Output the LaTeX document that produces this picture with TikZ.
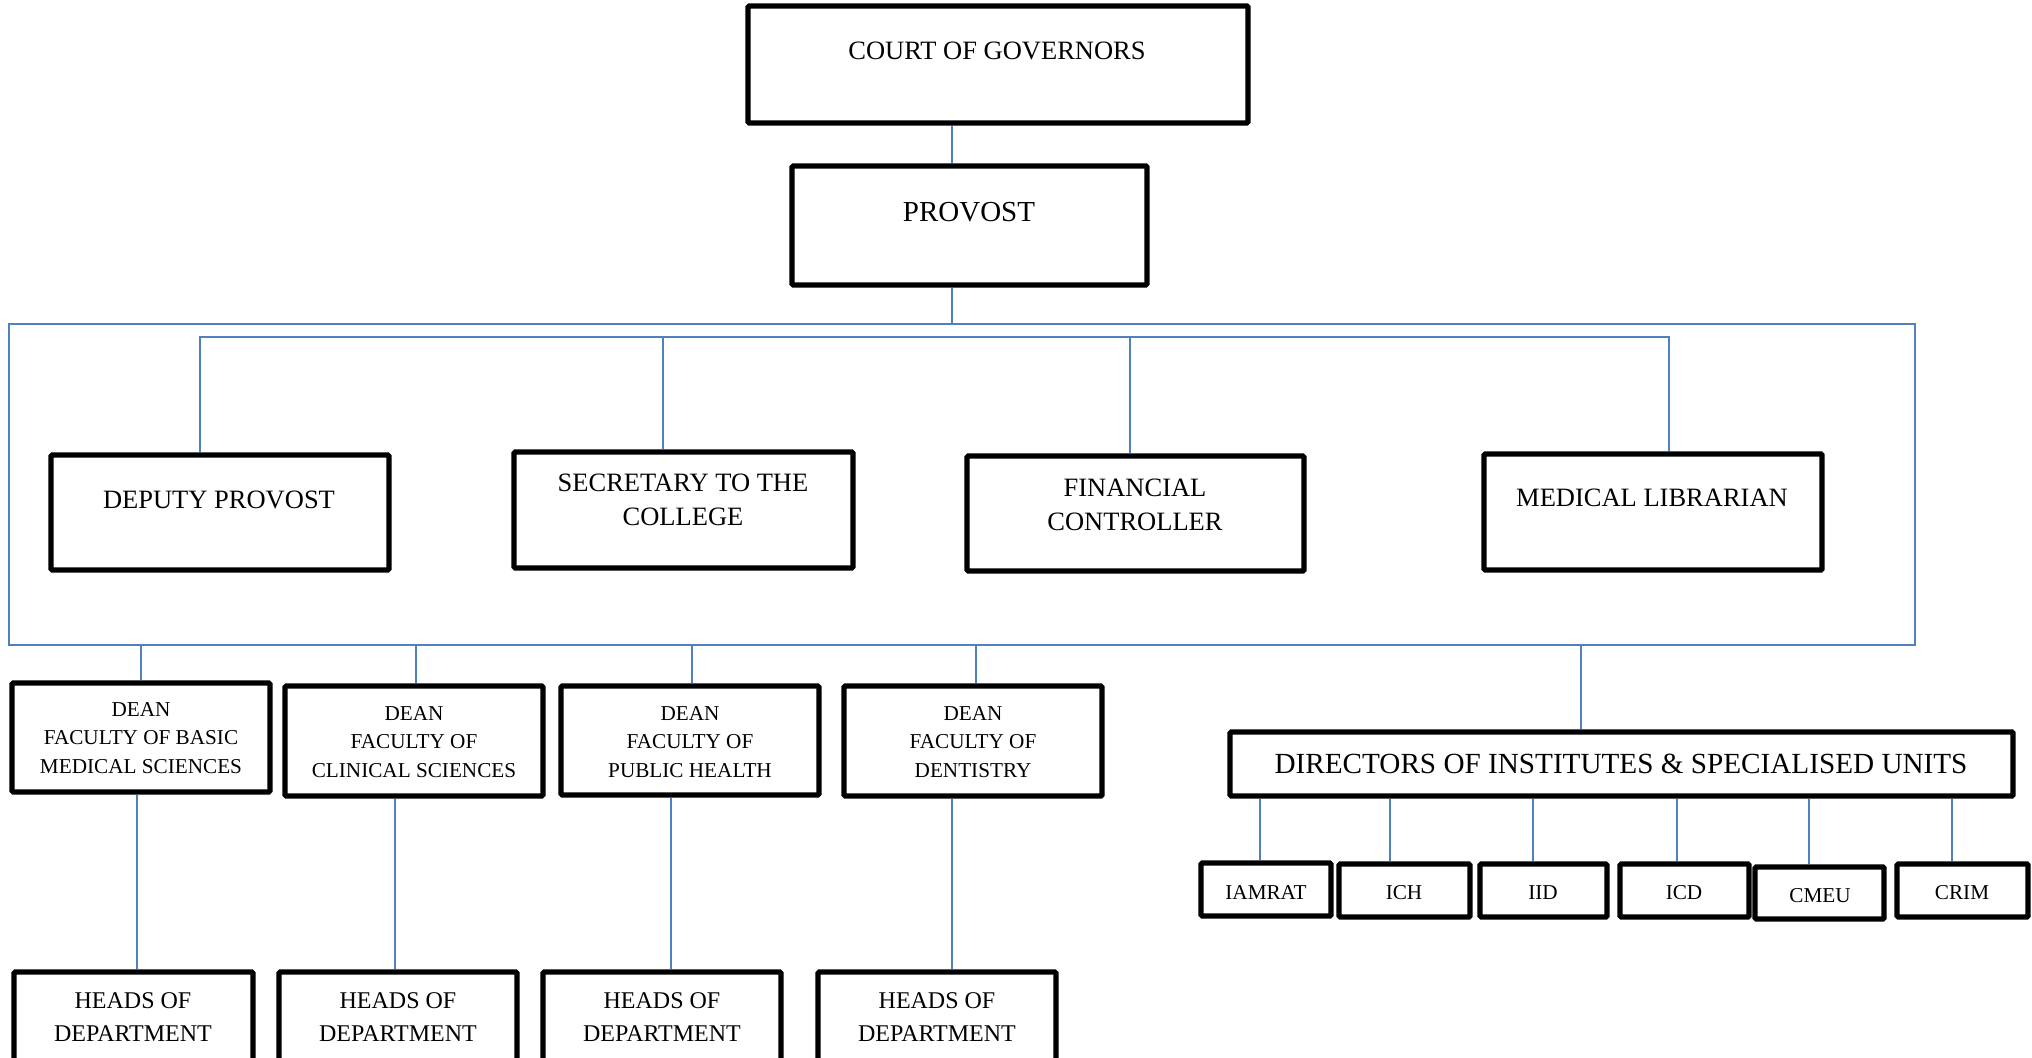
\documentclass[tikz,border=0pt]{standalone}
\usepackage{fontspec}
\setmainfont{Liberation Serif}
\usetikzlibrary{fit}
\definecolor{lineblue}{RGB}{79,129,189}
\tikzset{
  box/.style={draw=black, line width=2.6pt, inner sep=0pt, rounded corners=0.6pt},
  conn/.style={draw=lineblue, line width=0.9pt},
  frm/.style={draw=lineblue, line width=1.1pt, inner sep=0pt},
  big/.style={font=\fontsize{13.25}{17.25}\selectfont, align=center, inner sep=0pt},
  prv/.style={font=\fontsize{14.5}{17.25}\selectfont, align=center, inner sep=0pt},
  dean/.style={font=\fontsize{10.6}{14.25}\selectfont, align=center, inner sep=0pt},
  head/.style={font=\fontsize{12}{16.25}\selectfont, align=center, inner sep=0pt},
  dir/.style={font=\fontsize{14.6}{17}\selectfont, align=center, inner sep=0pt},
  small/.style={font=\fontsize{10.6}{13}\selectfont, align=center, inner sep=0pt},
}
\begin{document}
\begin{tikzpicture}[x=0.5pt,y=-0.5pt]
\useasboundingbox (0,0) rectangle (2032,1058);
\clip (0,0) rectangle (2032,1058);
% top boxes
\node[box, fit={(748,6) (1248,123)}] (court) {};
\node[big] (courtT) at (997,51) {COURT OF GOVERNORS};
\node[box, fit={(792,166) (1147,285)}] (prov) {};
\node[prv] (provT) at (969,212) {PROVOST};
% frame
\node[frm, fit={(9,324) (1915,645)}] (frame) {};
% officers
\node[box, fit={(51,455) (389,570)}] (dp) {};
\node[big] (dpT) at (219,500) {DEPUTY PROVOST};
\node[box, fit={(514,452) (853,568)}] (sec) {};
\node[big] (secT) at (683,500) {SECRETARY TO THE\\COLLEGE};
\node[box, fit={(967,456) (1304,571)}] (fin) {};
\node[big] (finT) at (1135,505) {FINANCIAL\\CONTROLLER};
\node[box, fit={(1484,454) (1822,570)}] (ml) {};
\node[big] (mlT) at (1652,498) {MEDICAL LIBRARIAN};
% deans
\node[box, fit={(12,683) (270,792)}] (d1) {};
\node[dean] at (141,738) {DEAN\\FACULTY OF BASIC\\MEDICAL SCIENCES};
\node[box, fit={(285,686) (543,796)}] (d2) {};
\node[dean] at (414,742) {DEAN\\FACULTY OF\\CLINICAL SCIENCES};
\node[box, fit={(561,686) (819,795)}] (d3) {};
\node[dean] at (690,742) {DEAN\\FACULTY OF\\PUBLIC HEALTH};
\node[box, fit={(844,686) (1102,796)}] (d4) {};
\node[dean] at (973,742) {DEAN\\FACULTY OF\\DENTISTRY};
% heads
\node[box, fit={(14,972) (253,1075)}] (h1) {};
\node[head] at (133,1017) {HEADS OF\\DEPARTMENT};
\node[box, fit={(279,972) (517,1075)}] (h2) {};
\node[head] at (398,1017) {HEADS OF\\DEPARTMENT};
\node[box, fit={(543,972) (781,1075)}] (h3) {};
\node[head] at (662,1017) {HEADS OF\\DEPARTMENT};
\node[box, fit={(818,972) (1056,1075)}] (h4) {};
\node[head] at (937,1017) {HEADS OF\\DEPARTMENT};
% directors
\node[box, fit={(1230,732) (2013,796)}] (dir) {};
\node[dir] at (1621,764) {DIRECTORS OF INSTITUTES \& SPECIALISED UNITS};
\node[box, fit={(1201,863) (1331,916)}] (u1) {};
\node[small] at (1266,892) {IAMRAT};
\node[box, fit={(1339,864) (1470,917)}] (u2) {};
\node[small] at (1404,893) {ICH};
\node[box, fit={(1480,864) (1607,917)}] (u3) {};
\node[small] at (1543,893) {IID};
\node[box, fit={(1620,864) (1749,917)}] (u4) {};
\node[small] at (1684,893) {ICD};
\node[box, fit={(1755,867) (1884,919)}] (u5) {};
\node[small] at (1820,896) {CMEU};
\node[box, fit={(1897,864) (2028,917)}] (u6) {};
\node[small] at (1962,893) {CRIM};
% connectors
\draw[conn] (court.south -| 952,0) -- (prov.north -| 952,0);
\draw[conn] (prov.south -| 952,0) -- (frame.north -| 952,0);
\coordinate (bar) at (0,337);
\draw[conn] (dp.north -| 200,0) -- (bar -| 200,0) -- (bar -| 1669,0) -- (ml.north -| 1669,0);
\draw[conn] (sec.north -| 663,0) -- (bar -| 663,0);
\draw[conn] (fin.north -| 1130,0) -- (bar -| 1130,0);
\draw[conn] (frame.south -| 141,0) -- (d1.north -| 141,0);
\draw[conn] (frame.south -| 416,0) -- (d2.north -| 416,0);
\draw[conn] (frame.south -| 692,0) -- (d3.north -| 692,0);
\draw[conn] (frame.south -| 976,0) -- (d4.north -| 976,0);
\draw[conn] (frame.south -| 1581,0) -- (dir.north -| 1581,0);
\draw[conn] (d1.south -| 137,0) -- (h1.north -| 137,0);
\draw[conn] (d2.south -| 395,0) -- (h2.north -| 395,0);
\draw[conn] (d3.south -| 671,0) -- (h3.north -| 671,0);
\draw[conn] (d4.south -| 952,0) -- (h4.north -| 952,0);
\draw[conn] (dir.south -| 1260,0) -- (u1.north -| 1260,0);
\draw[conn] (dir.south -| 1390,0) -- (u2.north -| 1390,0);
\draw[conn] (dir.south -| 1533,0) -- (u3.north -| 1533,0);
\draw[conn] (dir.south -| 1677,0) -- (u4.north -| 1677,0);
\draw[conn] (dir.south -| 1809,0) -- (u5.north -| 1809,0);
\draw[conn] (dir.south -| 1952,0) -- (u6.north -| 1952,0);
\end{tikzpicture}
\end{document}
